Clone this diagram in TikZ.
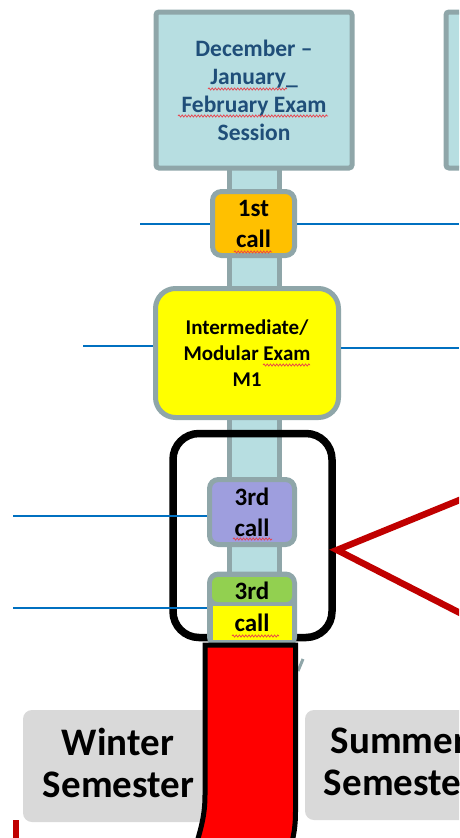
\documentclass[tikz,border=0pt]{standalone}
\usepackage{fontspec}
\setmainfont{Carlito}
\usetikzlibrary{decorations.pathmorphing,calc}
\definecolor{cyanf}{HTML}{B7DEE1}
\definecolor{grayb}{HTML}{8FA6A9}
\definecolor{darkblue}{HTML}{1F4E79}
\definecolor{orangef}{HTML}{FFC000}
\definecolor{yellowf}{HTML}{FFFF00}
\definecolor{purplef}{HTML}{9E9EDE}
\definecolor{greenf}{HTML}{92D050}
\definecolor{lineblue}{HTML}{0070C0}
\definecolor{darkred}{HTML}{C00000}
\definecolor{brightred}{HTML}{FF0000}
\definecolor{semgray}{HTML}{D9D9D9}
\definecolor{spell}{HTML}{E8404A}
\tikzset{
  box/.style={draw=grayb, line width=5pt, rounded corners=9pt, inner sep=0pt, align=center},
  calltxt/.style={font=\bfseries\fontsize{25}{31}\selectfont},
  bline/.style={draw=lineblue, line width=1.4pt},
  squig/.style={draw=spell, line width=0.7pt, decorate, decoration={snake, segment length=3.2pt, amplitude=1.1pt}},
  semtxt/.style={font=\bfseries\fontsize{39}{42}\selectfont, align=center, inner sep=0pt},
  semgraybox/.style={fill=semgray, rounded corners=9pt, inner sep=0pt}
}
\begin{document}
\begin{tikzpicture}[x=1pt,y=-1pt]
\useasboundingbox (0,0) rectangle (459,838);
\clip (0,0) rectangle (459,838);
% partially visible second session box
\node[box, rounded corners=3pt, fill=cyanf, minimum width=60, minimum height=156] (top2) at (476,90) {};
% stem
\node[draw=grayb, line width=5pt, fill=cyanf, minimum width=50, minimum height=485, inner sep=0pt] (stem) at (254.5,410) {};
% top session box
\node[box, rounded corners=3pt, fill=cyanf, text=darkblue, minimum width=196, minimum height=156,
  font=\bfseries\fontsize{23.5}{28}\selectfont] (top) at (254,90) {December --\\January\_\\February Exam\\Session};
% 1st call
\node[box, fill=orangef, minimum width=82, minimum height=64, calltxt] (c1) at (253.5,223.5) {1st\\call};
% intermediate exam
\node[box, rounded corners=20pt, fill=yellowf, minimum width=183, minimum height=129,
  font=\bfseries\fontsize{21}{26}\selectfont] (mid) at (247,353) {Intermediate/\\Modular Exam\\M1};
% bracket rectangle
\node[draw=black, line width=7.5pt, rounded corners=26pt, minimum width=159, minimum height=204, inner sep=0pt] (brk) at (252.5,535.5) {};
% 3rd call (purple)
\node[box, fill=purplef, minimum width=85, minimum height=65, calltxt] (c3a) at (252,512) {3rd\\call};
% 3rd call (green/yellow)
\node[box, fill=grayb, minimum width=85, minimum height=72, calltxt] (c3b) at (252,610) {};
\fill[greenf, rounded corners=6pt] (212,577) rectangle (292,602);
\fill[yellowf] (213,606) rectangle (292,640);
\node[calltxt, inner sep=0pt, anchor=base] (c3bt1) at (252,599) {3rd};
\node[calltxt, inner sep=0pt, anchor=base] (c3bt2) at (252,631) {call};
% blue lines
\coordinate (l1) at (140,224); \coordinate (r1) at (459,224);
\coordinate (l2) at (83,346);  \coordinate (r2) at (459,348);
\coordinate (l3) at (13,516);  \coordinate (l4) at (13,608);
\draw[bline] (l1) -- (l1 -| c1.west);
\draw[bline] (r1 -| c1.east) -- (r1);
\draw[bline] (l2) -- (l2 -| mid.west);
\draw[bline] (r2 -| mid.east) -- (r2);
\draw[bline] (l3) -- (l3 -| c3a.west);
\draw[bline] (l4) -- (l4 -| c3b.west);
% red callout lines
\coordinate (tip) at (337,550);
\coordinate (ru) at (462,499);
\coordinate (rd) at (462,614);
\draw[darkred, line width=6.5pt, line join=miter] (ru) -- (tip) -- (rd);
% spell-check squiggles
\draw[squig] (208,89) -- (287,89);
\draw[squig] (178,116) -- (328,116);
\draw[squig] (234,252) -- (272,252);
\draw[squig] (263,365) -- (310,365);
\draw[squig] (233,539) -- (272,539);
\draw[squig] (232,636) -- (279,636);
% small gray sliver
\draw[grayb, line width=3pt] (298,671) -- (303,659);
% semester boxes
\node[semgraybox, minimum width=192, minimum height=112] (wbox) at (119,766) {};
\node[semgraybox, minimum width=180, minimum height=110] (sbox) at (395,765) {};
\node[semtxt, anchor=base] (w1) at (118,755) {Winter};
\node[semtxt, anchor=base] (w2) at (118.5,797) {Semester};
\node[semtxt, anchor=base] (s1) at (399,753) {Summer};
\node[semtxt, anchor=base] (s2) at (399.5,795) {Semester};
% red band
\path[draw=black, line width=5pt, fill=brightred]
  (205,645) -- (205,795) .. controls (205,815) and (201,828) .. (197,842)
  -- (292,842) .. controls (296,826) and (295.5,815) .. (295.5,800) -- (295.5,645) -- cycle;
% small red mark
\fill[darkred] (13,820) rectangle (19,840);
\end{tikzpicture}
\end{document}
